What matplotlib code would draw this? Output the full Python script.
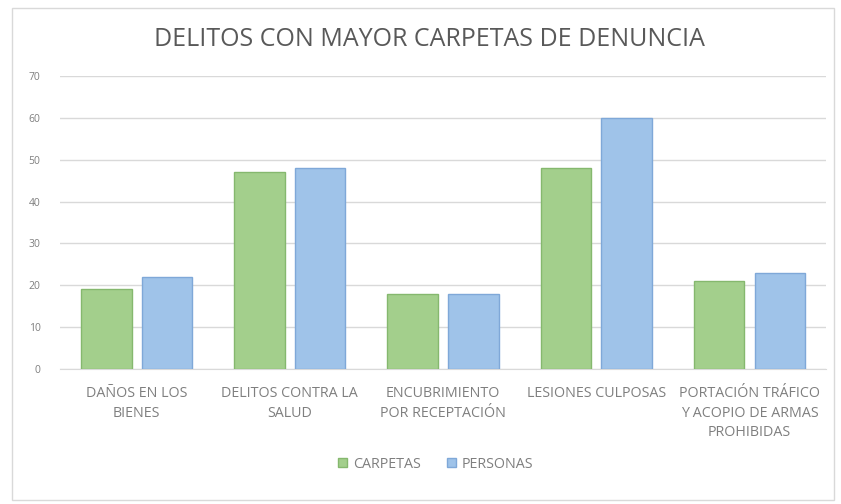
import numpy as np
import matplotlib.pyplot as plt
from matplotlib.patches import Rectangle

categorias = ["DAÑOS EN LOS\nBIENES", "DELITOS CONTRA LA\nSALUD",
              "ENCUBRIMIENTO\nPOR RECEPTACIÓN", "LESIONES CULPOSAS",
              "PORTACIÓN TRÁFICO\nY ACOPIO DE ARMAS\nPROHIBIDAS"]
carpetas = [19, 47, 18, 48, 21]
personas = [22, 48, 18, 60, 23]
yticks = [0, 10, 20, 30, 40, 50, 60, 70]

plt.rcParams['font.family'] = ['Open Sans', 'DejaVu Sans']

fig = plt.figure(figsize=(8.41, 5.04), dpi=100)
fig.patches.append(Rectangle((0.014, 0.008), 0.978, 0.976, transform=fig.transFigure,
                             fill=False, edgecolor='#d9d9d9', linewidth=1))
ax = fig.add_axes([0.0713, 0.268, 0.911, 0.581])

x = np.arange(len(categorias))
w = 0.33
ax.bar(x - w / 2 - 0.033, carpetas, w, color='#a3cf8c', edgecolor='#85b86e', linewidth=1,
       label='CARPETAS', zorder=3)
ax.bar(x + w / 2 + 0.033, personas, w, color='#9fc3e9', edgecolor='#7fa8d8', linewidth=1,
       label='PERSONAS', zorder=3)

ax.set_xlim(-0.5, len(categorias) - 0.5)
ax.set_ylim(0, 70)
ax.set_yticks(yticks)
ax.set_xticks(x)
ax.set_xticklabels(categorias, fontsize=10.3, color='#7f7f7f', linespacing=1.45)
ax.tick_params(axis='y', labelsize=7.5, labelcolor='#7f7f7f', length=0, pad=14)
ax.tick_params(axis='x', length=0, pad=12)
ax.grid(axis='y', color='#d9d9d9', linewidth=1, zorder=0)
for s in ['top', 'right', 'left']:
    ax.spines[s].set_visible(False)
ax.spines['bottom'].set_color('#d9d9d9')

fig.text(0.511, 0.922, "DELITOS CON MAYOR CARPETAS DE DENUNCIA", ha='center', va='center',
         fontsize=18, color='#595959')

fig.legend(loc='center', bbox_to_anchor=(0.518, 0.079), ncol=2, frameon=False, fontsize=10.3,
           labelcolor='#7f7f7f', handlelength=0.65, handleheight=0.65, handletextpad=0.4,
           columnspacing=1.8)

fig.savefig('out.png', dpi=100)
